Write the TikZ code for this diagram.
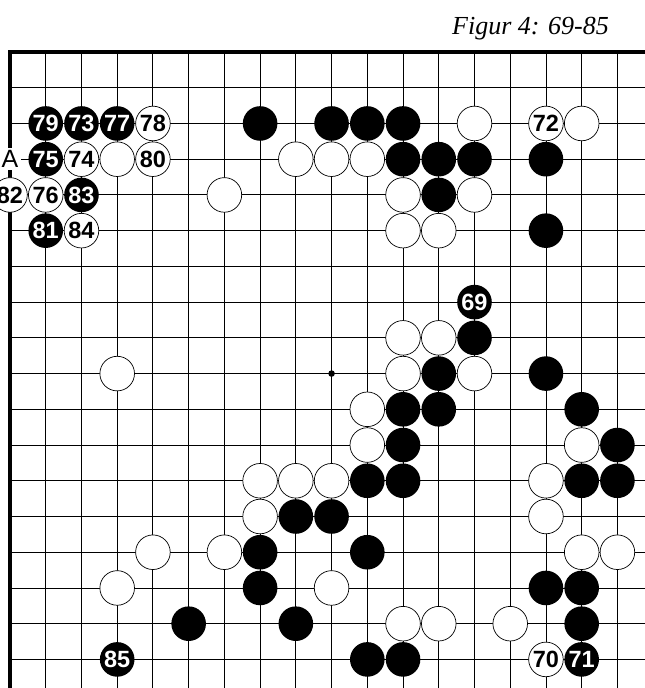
\documentclass[tikz,border=0pt]{standalone}
\usepackage{fontspec}
\newfontfamily\numfont{Liberation Sans}
\newfontfamily\titlefont{Liberation Serif}
\begin{document}
\begin{tikzpicture}[x=35.73pt,y=-35.73pt,
  gridline/.style={line width=0.9pt, black},
  border/.style={line width=3.8pt, black, line join=miter},
  stone/.style={circle, minimum size=34.6pt, inner sep=0pt,
    font={\numfont\bfseries\fontsize{23.5}{23.5}\selectfont}},
  bstone/.style={stone, fill=black, text=white},
  wstone/.style={stone, fill=white, draw=black, line width=0.7pt, text=black},
  marklabel/.style={fill=white, inner sep=2.5pt, font={\numfont\fontsize{25}{25}\selectfont}},
  hoshi/.style={circle, fill=black, inner sep=0pt, minimum size=6.6pt}]
\useasboundingbox (-0.2799,-1.4554) rectangle (17.772,17.800);
% title
\node[anchor=base west, inner sep=0pt, font={\titlefont\itshape\fontsize{26}{26}\selectfont}] (title) at (12.37,-0.476) {Figur 4: 69-85};
% grid
\foreach \c in {1,...,17} \draw[gridline] (\c,0) -- (\c,17.8);
\foreach \r in {1,...,17} \draw[gridline] (0,\r) -- (17.772,\r);
\draw[border] (0,17.8) -- (0,0) -- (17.772,0);
\node[hoshi] (tengen) at (9,9) {};
% label A
\node[marklabel] (labelA) at (0,3) {A};
% black stones
\foreach \c/\r in {7/2,9/2,10/2,11/2, 11/3,12/3,13/3,15/3, 12/4, 15/5, 13/8,
  12/9,15/9, 11/10,12/10,16/10, 11/11,17/11, 10/12,11/12,16/12,17/12,
  8/13,9/13, 7/14,10/14, 7/15,15/15,16/15, 5/16,8/16,16/16, 10/17,11/17}
  \node[bstone] (b-\c-\r) at (\c,\r) {};
% white stones
\foreach \c/\r in {13/2,16/2, 3/3,8/3,9/3,10/3, 6/4,11/4,13/4, 11/5,12/5,
  11/8,12/8, 3/9,11/9,13/9, 10/10, 10/11,16/11, 7/12,8/12,9/12,15/12,
  7/13,15/13, 4/14,6/14,16/14,17/14, 3/15,9/15, 11/16,12/16,14/16}
  \node[wstone] (w-\c-\r) at (\c,\r) {};
% numbered black
\foreach \c/\r/\n in {13/7/69, 16/17/71, 2/2/73, 1/3/75, 3/2/77, 1/2/79, 1/5/81, 2/4/83, 3/17/85}
  \node[bstone] (m\n) at (\c,\r) {\n};
% numbered white
\foreach \c/\r/\n in {15/17/70, 15/2/72, 2/3/74, 1/4/76, 4/2/78, 4/3/80, 0/4/82, 2/5/84}
  \node[wstone] (m\n) at (\c,\r) {\n};
\end{tikzpicture}
\end{document}
